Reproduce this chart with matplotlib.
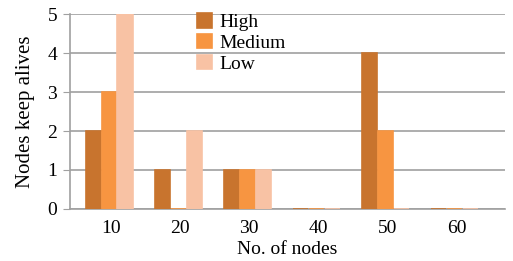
import numpy as np
import matplotlib.pyplot as plt

plt.rcParams['font.family'] = ['Liberation Serif', 'DejaVu Serif']

nodes = ['10', '20', '30', '40', '50', '60']
high = [2, 1, 1, 0, 4, 0]
medium = [3, 0, 1, 0, 2, 0]
low = [5, 2, 1, 0, 0, 0]

series = [('High', high, '#c8742e'), ('Medium', medium, '#f79541'), ('Low', low, '#f8c2a4')]

fig = plt.figure(figsize=(5.13, 2.61), dpi=100)
ax = fig.add_axes([0.136, 0.2, 0.848, 0.745])

x = np.arange(len(nodes))
w = 0.23
for i, (name, vals, col) in enumerate(series):
    ax.bar(x + (i - 1) * w - 0.03, vals, w * 0.95, color=col, edgecolor=col, linewidth=1.2,
           label=name, zorder=3)

ax.set_xlim(-0.6, 5.7)
ax.set_ylim(0, 5)
ax.set_yticks(range(6))
ax.set_xticks(x)
ax.set_xticklabels(nodes)
ax.grid(axis='y', color='#a0a0a0', linewidth=1.2, zorder=0)
for s in ['top', 'right']:
    ax.spines[s].set_visible(False)
for s in ['left', 'bottom']:
    ax.spines[s].set_color('#a0a0a0')
    ax.spines[s].set_linewidth(1.2)
ax.tick_params(axis='y', colors='#a0a0a0', labelcolor='black', labelsize=14, length=5, pad=4)
ax.tick_params(axis='x', length=0, labelsize=14, pad=8)

ax.set_xlabel('No. of nodes', fontsize=14, labelpad=3)
ax.set_ylabel('Nodes keep alives', fontsize=15, labelpad=9)

ax.legend(loc='upper left', bbox_to_anchor=(0.275, 1.045), frameon=False, fontsize=14,
          handlelength=0.75, handleheight=0.75, handletextpad=0.4, labelspacing=0.15,
          borderaxespad=0)

fig.savefig('out.png', dpi=100)
